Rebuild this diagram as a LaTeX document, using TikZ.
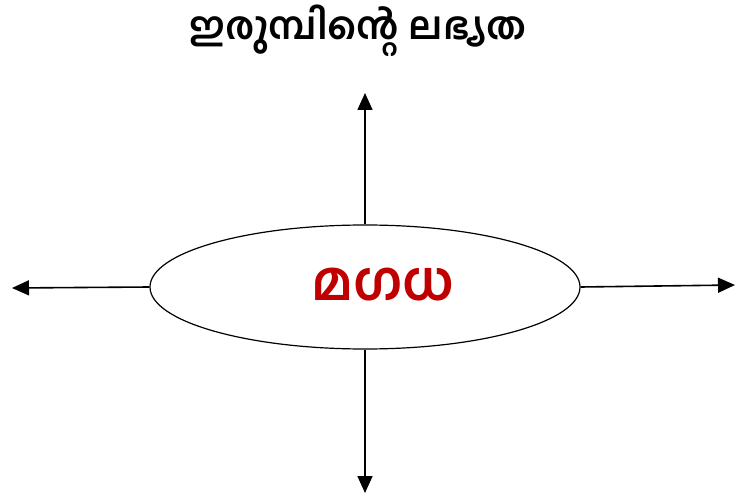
\documentclass[tikz,border=0pt]{standalone}
\usepackage{fontspec}
\newfontfamily\mlfont[Script=Malayalam]{Hind Kochi}
\usetikzlibrary{shapes.geometric,arrows.meta}
\definecolor{darkred}{HTML}{C00000}
\tikzset{
  arr/.style={line width=1.6pt,-{Triangle[length=17pt,width=15pt]}},
  oval/.style={ellipse,draw,line width=1.2pt,minimum width=430pt,minimum height=124pt,inner sep=0pt},
}
\begin{document}
\begin{tikzpicture}[x=1pt,y=-1pt]
\useasboundingbox (0,0) rectangle (736,497);
\node[font=\mlfont\bfseries\fontsize{38}{42}\selectfont] (title) at (358,31) {ഇരുമ്പിന്റെ ലഭ്യത};
\node[font=\mlfont\bfseries\fontsize{54}{58}\selectfont,text=darkred] (m) at (383,285) {മഗധ};
\node[oval] (e) at (365,287) {};
\coordinate (up) at (365,93);
\coordinate (dn) at (365,493);
\coordinate (lf) at (12,288);
\coordinate (rt) at (735,285);
\draw[arr] (e.north) -- (up);
\draw[arr] (e.south) -- (dn);
\draw[arr] (e.west) -- (lf);
\draw[arr] (e.east) -- (rt);
\end{tikzpicture}
\end{document}
